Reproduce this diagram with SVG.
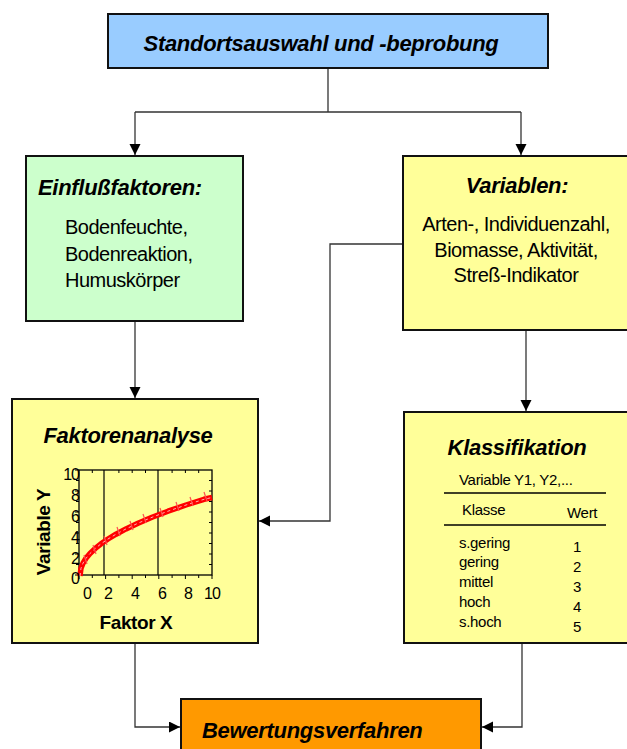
<svg xmlns="http://www.w3.org/2000/svg" width="627" height="749" viewBox="0 0 627 749">
<style>
.box{stroke:#111;stroke-width:2}
.title{font-family:"Liberation Sans",Arial,sans-serif;font-weight:bold;font-style:italic;font-size:22px;letter-spacing:-0.3px;fill:#000}
.body{font-family:"Liberation Sans",Arial,sans-serif;font-size:20px;letter-spacing:-0.5px;fill:#000}
.small{font-family:"Liberation Sans",Arial,sans-serif;font-size:15px;letter-spacing:-0.3px;fill:#000}
.ax{font-family:"Liberation Sans",Arial,sans-serif;font-size:16px;letter-spacing:-1px;fill:#000}
.axb{font-family:"Liberation Sans",Arial,sans-serif;font-size:19px;font-weight:bold;letter-spacing:-0.4px;fill:#000}
.conn{fill:none;stroke:#333;stroke-width:1.3}
.tick{stroke:#000;stroke-width:1}
</style>
<defs>
<marker id="arr" markerUnits="userSpaceOnUse" markerWidth="12" markerHeight="12" refX="11" refY="5.5" orient="auto">
<path d="M0,0 L11,5.5 L0,11 z" fill="#000"/>
</marker>
</defs>

<g id="connectors">
<path class="conn" d="M328,68 V112 M135,112 H521"/>
<path class="conn" d="M135,112 V155" marker-end="url(#arr)"/>
<path class="conn" d="M521,112 V155" marker-end="url(#arr)"/>
<path class="conn" d="M135,321 V398" marker-end="url(#arr)"/>
<path class="conn" d="M526,330 V411" marker-end="url(#arr)"/>
<path class="conn" d="M403,244 H330 V521 H259" marker-end="url(#arr)"/>
<path class="conn" d="M135,643 V727 H180" marker-end="url(#arr)"/>
<path class="conn" d="M522,643 V727 H482" marker-end="url(#arr)"/>
</g>

<g id="node-standort">
<rect class="box" x="108" y="14" width="440" height="54" fill="#99CCFF"/>
<text class="title" x="321" y="51" text-anchor="middle">Standortsauswahl und -beprobung</text>
</g>

<g id="node-einfluss">
<rect class="box" x="26" y="156" width="217" height="165" fill="#CCFFCC"/>
<text class="title" x="38" y="195">Einflußfaktoren:</text>
<text class="body" x="65" y="234">Bodenfeuchte,</text>
<text class="body" x="65" y="261">Bodenreaktion,</text>
<text class="body" x="65" y="287">Humuskörper</text>
</g>

<g id="node-variablen">
<rect class="box" x="403" y="156" width="230" height="174" fill="#FFFF99"/>
<text class="title" x="517" y="193" text-anchor="middle">Variablen:</text>
<text class="body" x="516" y="231" text-anchor="middle">Arten-, Individuenzahl,</text>
<text class="body" x="516" y="257" text-anchor="middle">Biomasse, Aktivität,</text>
<text class="body" x="516" y="282" text-anchor="middle">Streß-Indikator</text>
</g>

<g id="node-faktorenanalyse">
<rect class="box" x="12" y="399" width="246" height="244" fill="#FFFF99"/>
<text class="title" x="128" y="443" text-anchor="middle">Faktorenanalyse</text>
<g id="chart">
<rect x="79" y="470" width="133" height="105" fill="none" stroke="#000" stroke-width="1.3"/>
<line x1="104" y1="470" x2="104" y2="575" stroke="#000" stroke-width="1.2"/>
<line x1="158" y1="470" x2="158" y2="575" stroke="#000" stroke-width="1.2"/>
<path class="tick" d="M79,470 h-4 M79,480.5 h-3 M79,491 h-4 M79,501.5 h-3 M79,512 h-4 M79,522.5 h-3 M79,533 h-4 M79,543.5 h-3 M79,554 h-4 M79,564.5 h-3 M79,575 h-4"/>
<path class="tick" d="M79,575 v4 M92.3,575 v3 M105.6,575 v4 M118.9,575 v3 M132.2,575 v4 M145.5,575 v3 M158.8,575 v4 M172.1,575 v3 M185.4,575 v4 M198.7,575 v3 M212,575 v4"/>
<path class="tick" d="M212,480.5 h-3 M212,491 h-3 M212,501.5 h-3 M212,512 h-3 M212,522.5 h-3 M212,533 h-3 M212,543.5 h-3 M212,554 h-3 M212,564.5 h-3 M92.3,470 v3 M118.9,470 v3 M132.2,470 v3 M145.5,470 v3 M172.1,470 v3 M185.4,470 v3 M198.7,470 v3"/>
<path d="M80,576 L81,568.2 L83,563.2 L86,558.3 L90,553.5 L95,548.7 L101,543.8 L108,539 L116,534.2 L126,528.9 L138,523.2 L152,517.3 L168,511.2 L186,505 L204,499.3 L212,497.5" fill="none" stroke="#FF0000" stroke-width="5.5" stroke-linejoin="round"/>
<path d="M80,576 L81,568.2 L83,563.2 L86,558.3 L90,553.5 L95,548.7 L101,543.8 L108,539 L116,534.2 L126,528.9 L138,523.2 L152,517.3 L168,511.2 L186,505 L204,499.3 L212,497.5" fill="none" stroke="#FFB0B0" stroke-width="1" stroke-dasharray="3,3"/>
<path d="M84,555 l3,9 M93,545 l3,9 M104,536 l3,9 M117,527 l3,9 M130,521 l3,9 M143,514 l3,9 M160,508 l3,9 M176,502 l3,9 M190,497 l3,9 M204,492 l3,9" stroke="#FF5050" stroke-width="1.2"/>
<text class="ax" x="79" y="480" text-anchor="end">10</text>
<text class="ax" x="79" y="501" text-anchor="end">8</text>
<text class="ax" x="79" y="522" text-anchor="end">6</text>
<text class="ax" x="79" y="543" text-anchor="end">4</text>
<text class="ax" x="79" y="564" text-anchor="end">2</text>
<text class="ax" x="79" y="584" text-anchor="end">0</text>
<text class="ax" x="87" y="599" text-anchor="middle">0</text>
<text class="ax" x="108" y="599" text-anchor="middle">2</text>
<text class="ax" x="135" y="599" text-anchor="middle">4</text>
<text class="ax" x="162" y="599" text-anchor="middle">6</text>
<text class="ax" x="188" y="599" text-anchor="middle">8</text>
<text class="ax" x="212" y="599" text-anchor="middle">10</text>
<text class="axb" transform="translate(50,532) rotate(-90)" text-anchor="middle">Variable Y</text>
<text class="axb" x="136" y="629" text-anchor="middle">Faktor X</text>
</g>
</g>

<g id="node-klassifikation">
<rect class="box" x="404" y="412" width="229" height="231" fill="#FFFF99"/>
<text class="title" x="517" y="455" text-anchor="middle">Klassifikation</text>
<text class="small" x="459" y="485">Variable Y1, Y2,...</text>
<line x1="444" y1="493" x2="606" y2="493" stroke="#000" stroke-width="1.5"/>
<text class="small" x="462" y="515">Klasse</text>
<text class="small" x="567" y="518">Wert</text>
<line x1="444" y1="525" x2="606" y2="525" stroke="#000" stroke-width="1.5"/>
<text class="small" x="459" y="548">s.gering</text>
<text class="small" x="459" y="567">gering</text>
<text class="small" x="459" y="587">mittel</text>
<text class="small" x="459" y="607">hoch</text>
<text class="small" x="459" y="627">s.hoch</text>
<text class="small" x="577" y="552" text-anchor="middle">1</text>
<text class="small" x="577" y="572" text-anchor="middle">2</text>
<text class="small" x="577" y="592" text-anchor="middle">3</text>
<text class="small" x="577" y="612" text-anchor="middle">4</text>
<text class="small" x="577" y="632" text-anchor="middle">5</text>
</g>

<g id="node-bewertung">
<rect class="box" x="181" y="699" width="300" height="70" fill="#FF9900"/>
<text class="title" x="202" y="738">Bewertungsverfahren</text>
</g>
</svg>
